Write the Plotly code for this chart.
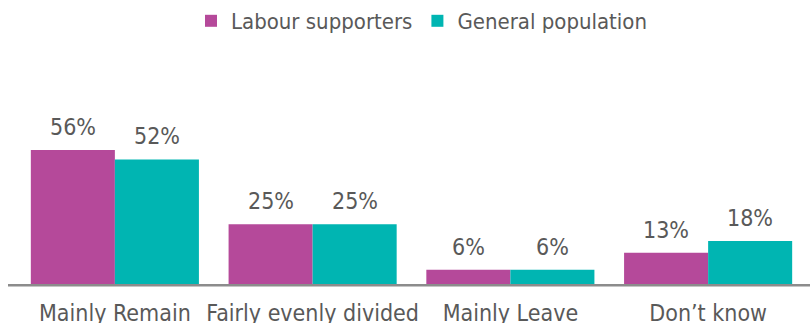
import plotly.graph_objects as go

categories = ["Mainly Remain", "Fairly evenly divided", "Mainly Leave", "Don\u2019t know"]
labour = [56, 25, 6, 13]
general = [52, 25, 6, 18]
series_names = ["Labour supporters", "General population"]
colors = ["#B5499A", "#00B5B2"]

FONT = "DejaVu Sans Condensed, Liberation Sans Narrow, sans-serif"
TXT = "#595959"

fig = go.Figure()
for name, vals, col in zip(series_names, [labour, general], colors):
    fig.add_trace(go.Bar(x=categories, y=vals, name=name, marker=dict(color=col, line=dict(width=0))))

# value labels
for vals, shift in [(labour, -42), (general, 42)]:
    for c, v in zip(categories, vals):
        fig.add_annotation(x=c, y=v, text=f"{v}%", showarrow=False, xshift=shift, yshift=8,
                           yanchor="bottom", font=dict(family=FONT, size=23, color=TXT))

W, H = 810, 323
L, R, T, B = 16, 3, 80, 39
fig.add_shape(type="line", xref="paper", yref="paper", x0=-8/(W-L-R), x1=(W-L)/(W-L-R), y0=-0.006, y1=-0.006,
              line=dict(color="#8C8C8C", width=2.5))

fig.update_layout(
    width=W, height=H,
    margin=dict(l=L, r=R, t=T, b=B, autoexpand=False),
    paper_bgcolor="white", plot_bgcolor="white",
    barmode="group", bargap=0.15, bargroupgap=0,
    font=dict(family=FONT, size=23, color=TXT),
    legend=dict(orientation="h", x=(422-L)/(W-L-R), xanchor="center", y=1.0, yref="container",
                yanchor="top", font=dict(family=FONT, size=22, color=TXT), itemwidth=30),
    xaxis=dict(showline=False, ticks="outside", ticklen=8, tickcolor="rgba(0,0,0,0)", automargin=False,
               tickfont=dict(family=FONT, size=23, color=TXT)),
    yaxis=dict(range=[0, 85.2], visible=False, showgrid=False, zeroline=False, automargin=False),
)
fig.write_html("out.html")
